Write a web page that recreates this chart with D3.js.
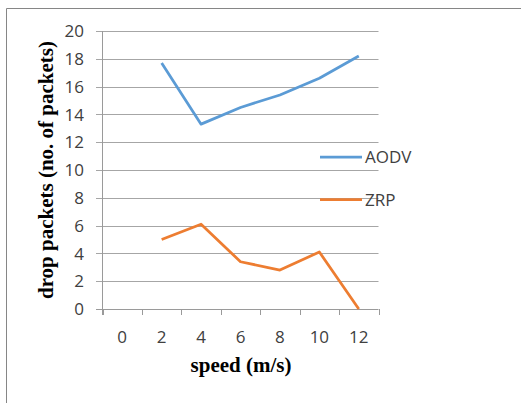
<!DOCTYPE html>
<html><head><meta charset="utf-8">
<script src="https://cdn.jsdelivr.net/npm/d3@7"></script>
<style>body{margin:0;background:#fff}svg{display:block}</style>
</head><body>
<svg id="c" width="521" height="403"></svg>
<script>
const categories = ["0","2","4","6","8","10","12"];
const aodv = [null,17.7,13.3,14.5,15.4,16.6,18.2];
const zrp = [null,5.0,6.1,3.4,2.8,4.1,0];
const yTicks = [0,2,4,6,8,10,12,14,16,18,20];
const seriesNames = ["AODV","ZRP"];
const colors = ["#5B9BD5","#ED7D31"];

(function(){
const svg = d3.select("#c");
// frame
svg.append("path").attr("d","M6.5,403 V8.5 H521").attr("fill","none").attr("stroke","#868686").attr("stroke-width",1);

const pLeft=102.5, pRight=378.5, pTop=31, pBottom=309;
const x = d3.scaleBand().domain(categories).range([pLeft,pRight]).padding(0);
const y = d3.scaleLinear().domain([0,20]).range([pBottom,pTop]);

// gridlines
svg.append("g").selectAll("line").data(yTicks).join("line")
  .attr("x1",96).attr("x2",pRight).attr("y1",d=>Math.round(y(d))+0.5).attr("y2",d=>Math.round(y(d))+0.5)
  .attr("stroke",d=>d===0?"#9a9a9a":"#a6a6a6").attr("stroke-width",1);
// y axis line
svg.append("line").attr("x1",pLeft).attr("x2",pLeft).attr("y1",pTop).attr("y2",pBottom+6).attr("stroke","#9a9a9a");
// x ticks at band boundaries
const bounds = categories.map(c=>x(c)).concat([pRight]);
svg.append("g").selectAll("line").data(bounds).join("line")
  .attr("x1",d=>Math.round(d)+0.5).attr("x2",d=>Math.round(d)+0.5).attr("y1",pBottom).attr("y2",pBottom+6)
  .attr("stroke","#9a9a9a");

const tickFont = "'Open Sans', 'DejaVu Sans', sans-serif";
// y labels
svg.append("g").selectAll("text").data(yTicks).join("text")
  .attr("x",84).attr("y",d=>y(d)).attr("dy","0.36em").attr("text-anchor","end")
  .attr("font-family",tickFont).attr("font-size",17).attr("fill","#404040").text(d=>d);
// x labels
svg.append("g").selectAll("text").data(categories).join("text")
  .attr("x",d=>x(d)+x.bandwidth()/2).attr("y",337).attr("dy","0.36em").attr("text-anchor","middle")
  .attr("font-family",tickFont).attr("font-size",17).attr("fill","#404040").text(d=>d);

// lines
const line = d3.line().defined(d=>d.v!==null).x(d=>x(d.c)+x.bandwidth()/2).y(d=>y(d.v));
[aodv,zrp].forEach((s,i)=>{
  svg.append("path").datum(categories.map((c,j)=>({c,v:s[j]})))
    .attr("d",line).attr("fill","none").attr("stroke",colors[i]).attr("stroke-width",2.75)
    .attr("stroke-linejoin","round");
});

// legend
const legY=[157,199.5];
seriesNames.forEach((n,i)=>{
  svg.append("line").attr("x1",320).attr("x2",362).attr("y1",legY[i]).attr("y2",legY[i])
    .attr("stroke",colors[i]).attr("stroke-width",2.75);
  svg.append("text").attr("x",365).attr("y",legY[i]).attr("dy","0.36em")
    .attr("font-family",tickFont).attr("font-size",17).attr("fill","#404040").text(n);
});

// axis titles
svg.append("text").attr("transform","translate(53,170) rotate(-90)").attr("text-anchor","middle")
  .attr("font-family","'Liberation Serif','Times New Roman',serif").attr("font-weight","bold")
  .attr("font-size",21).attr("fill","#000").text("drop packets (no. of packets)");
svg.append("text").attr("x",241).attr("y",372).attr("text-anchor","middle")
  .attr("font-family","'Liberation Serif','Times New Roman',serif").attr("font-weight","bold")
  .attr("font-size",21).attr("fill","#000").text("speed (m/s)");
})();
</script>
</body></html>
